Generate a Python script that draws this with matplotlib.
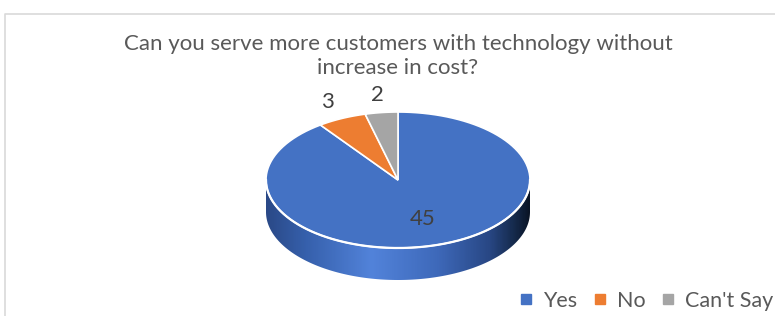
## 3D pie chart (Excel style) ##
import numpy as np
import matplotlib
matplotlib.use("Agg")
import matplotlib.pyplot as plt
from matplotlib.patches import Polygon
from matplotlib.colors import LinearSegmentedColormap

## data ##
title = "Can you serve more customers with technology without\nincrease in cost?"
labels = ["Yes", "No", "Can't Say"]
values = [45, 3, 2]
colors = ["#4472C4", "#ED7D31", "#A5A5A5"]

## figure ##
plt.rcParams["font.family"] = ["Lato", "DejaVu Sans"]
fig = plt.figure(figsize=(7.75, 3.16), dpi=100, facecolor="white")
ax = fig.add_axes([0, 0, 1, 1])
ax.axis("off")

# chart frame
ax.plot([5, 5, 776], [317, 14, 14], color="#D9D9D9", lw=1.2)

ax.text(398, 56, title, ha="center", va="center", fontsize=16,
        color="#595959", linespacing=1.3)

# pie geometry (screen pixels)
cx, cy, rx, ry, depth = 398, 180, 132, 68, 32

def ell(theta_deg, k=1.0):
    t = np.radians(theta_deg)
    return cx + k * rx * np.sin(t), cy - k * ry * np.cos(t)

# side wall (front half), gradient
phi = np.linspace(0, np.pi, 200)
top_x = cx + rx * np.cos(phi)
top_y = cy + ry * np.sin(phi)
side = np.concatenate([np.c_[top_x, top_y], np.c_[top_x[::-1], top_y[::-1] + depth]])
side_poly = Polygon(side, closed=True, facecolor="none", edgecolor="none")
ax.add_patch(side_poly)
cmap = LinearSegmentedColormap.from_list("side", [
    (0.0, "#2A4987"), (0.15, "#3660AC"), (0.4, "#5283DA"),
    (0.65, "#3E69BA"), (0.85, "#284784"), (0.95, "#142848"), (1.0, "#0A1426")])
grad = np.linspace(0, 1, 300)[None, :]
im = ax.imshow(grad, cmap=cmap, extent=[cx - rx, cx + rx, cy + ry + depth, cy],
               aspect="auto", zorder=1)
im.set_clip_path(side_poly)
ax.set_xlim(0, 775)
ax.set_ylim(316, 0)

# top face wedges, clockwise from 12 o'clock
total = sum(values)
bounds = np.concatenate([[0], np.cumsum(values)]) / total * 360
for v, c, a0, a1 in zip(values, colors, bounds[:-1], bounds[1:]):
    th = np.linspace(a0, a1, 120)
    xs, ys = ell(th)
    pts = np.c_[np.r_[cx, xs], np.r_[cy, ys]]
    ax.add_patch(Polygon(pts, closed=True, facecolor=c, edgecolor="white",
                         lw=1.2, zorder=2, joinstyle="miter"))

# light rim on front edge
ax.plot(top_x, top_y, color="white", lw=1.6, zorder=3)

# data labels
for v, a0, a1 in zip(values, bounds[:-1], bounds[1:]):
    mid = (a0 + a1) / 2
    k = 0.6 if v / total > 0.5 else 1.26
    lx, ly = ell(mid, k)
    ax.text(lx, ly, str(v), ha="center", va="center", fontsize=16,
            color="#404040", zorder=4)

# legend
handles = [plt.Line2D([], [], marker="s", ls="", color=c, markersize=7) for c in colors]
fig.legend(handles, labels, loc="lower right", bbox_to_anchor=(1.023, -0.045),
           ncol=3, frameon=False, fontsize=15.5, labelcolor="#595959",
           handlelength=0.7, handletextpad=0.45, columnspacing=0.7)

fig.savefig("out.png", dpi=100, facecolor="white")
